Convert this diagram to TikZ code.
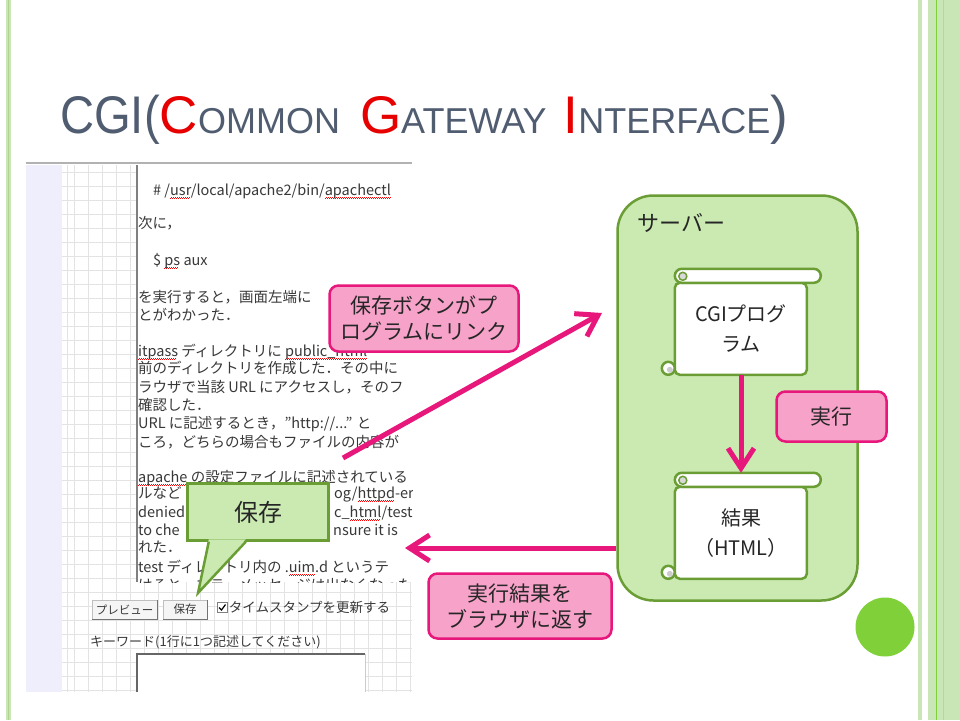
\documentclass[tikz,border=0pt]{standalone}
\usepackage{fontspec}
\usepackage{tikz}
\usetikzlibrary{arrows.meta,positioning,calc}

\setmainfont{Liberation Sans}
\newfontfamily\jp{Noto Sans CJK JP}

\definecolor{titlegray}{HTML}{505C70}
\definecolor{titlered}{HTML}{E60000}
\definecolor{linkpink}{HTML}{E8177C}
\definecolor{notepink}{HTML}{F6A2C9}
\definecolor{srvgreen}{HTML}{CBEAB2}
\definecolor{srvedge}{HTML}{6A9E35}
\definecolor{leafgreen}{HTML}{80D03A}
\definecolor{palegreen}{HTML}{C8E6B6}
\definecolor{shotgrid}{HTML}{E3E3E3}
\definecolor{shotpanel}{HTML}{EEEEFC}
\definecolor{shottext}{HTML}{383838}

% small caps of the title
\newcommand\smcap[1]{{\fontsize{36}{40}\selectfont #1}}
% red wavy line under misspelt words
\newlength\spellwd
\newcommand\spell[1]{\settowidth\spellwd{#1}%
  \rlap{\color{red}\leaders\hbox{\rule[-3.2pt]{1pt}{0.7pt}\rule[-2.4pt]{1pt}{0.7pt}}\hskip\spellwd}#1}

\tikzset{
  scrollpic/.pic = {
    % body of the scroll
    \filldraw[scrolledge, fill=white, rounded corners=5pt]
      (0,14) -- (0,106) -- (132,106) -- (132,14) -- cycle;
    % top roll and its curl
    \filldraw[scrolledge, fill=white, rounded corners=7pt] (0,0) rectangle (146,14);
    \filldraw[scrolledge, fill=gray!30, line width=1.5pt] (8,7.5) circle (4pt);
    % bottom curl
    \filldraw[scrolledge, fill=white] (-6.5,99.5) circle (6.5pt);
    \fill[gray!40] (-5,101) circle (3pt);
  }
}

\begin{document}
\begin{tikzpicture}[
    x = 1pt, y = -1pt, % one unit is one pixel, y runs down
    > = {Straight Barb[length=20pt,width=26pt]}, % open arrow head
    linkarrow/.style = {->, draw=linkpink, line width=5pt},
    pinknote/.style = {draw=linkpink, fill=notepink, line width=2.5pt,
        rounded corners=9pt, align=center, inner sep=0pt, text=black!85,
        font=\jp\fontsize{21}{26}\selectfont},
    srvbox/.style = {draw=srvedge, fill=srvgreen, line width=2.5pt,
        rounded corners=36pt, minimum width=240pt, minimum height=405pt},
    scrollnode/.style = {minimum width=132pt, minimum height=106pt, inner sep=0pt},
    scrolledge/.style = {draw=srvedge, line width=2.5pt},
    scrolltext/.style = {align=center, text=black!85,
        font=\jp\fontsize{20}{30}\selectfont},
    shot/.style = {anchor=base west, inner sep=0pt, text=shottext,
        font=\jp\fontsize{14.5}{18}\selectfont},
    btn/.style = {fill=black!4, draw=black!25, minimum height=19pt, inner sep=0pt,
        text=shottext, font=\jp\fontsize{11.5}{12}\selectfont}
]
\fill[white] (0,0) rectangle (960,720);
\useasboundingbox (0,0) rectangle (960,720);

% slide decoration
\fill[palegreen] (6,0) rectangle (11,720);
\draw[srvgreen!70!srvedge, line width=0.8pt] (8,0) -- (8,720);
\fill[palegreen] (918,0) rectangle (922,720);
\fill[palegreen] (928,0) rectangle (960,720);
\draw[leafgreen, line width=1pt] (936,0) -- (936,720);
\draw[palegreen!80!srvedge, line width=1pt] (943,0) -- (943,720);
\fill[leafgreen] (885,627) circle (29.5pt);

% title
\node[anchor=base west, inner sep=0pt, text=titlegray,
      font=\fontsize{53}{60}\selectfont] (title) at (60,133)
  {\scalebox{0.89}[1]{CGI(}\textcolor{titlered}{C}\smcap{OMMON}\hspace{20pt}\textcolor{titlered}{G}\smcap{ATEWAY}\hspace{17pt}\textcolor{titlered}{I}\smcap{NTERFACE})};

% screenshot of the browser
\fill[shotpanel] (26,165) rectangle (62,692);
\fill[white] (62,165) rectangle (412,692);
\foreach \gx in {67,74,88,...,410}
  \draw[shotgrid] (\gx,165) -- (\gx,692);
\foreach \gy in {172,186,...,690}
  \draw[shotgrid] (62,\gy) -- (412,\gy);
\draw[black!30, line width=2pt] (26,163) -- (412,163);
\fill[white] (137,165) rectangle (412,582);
\draw[black!50, line width=1.5pt] (137,165) -- (137,582);

\begin{scope}
  \clip (137,165) rectangle (412,582);
  \node[shot] (l1) at (153,195) {\# /\spell{usr}/local/apache2/bin/\spell{apachectl}};
  \node[shot] (l2) at (138,228) {次に，};
  \node[shot] (l3) at (153,265) {\$ \spell{ps} aux};
  \node[shot] (l4) at (138,302) {を実行すると，画面左端に};
  \node[shot] (l5) at (138,320) {とがわかった．};
  \node[shot] (l6) at (138,356) {\spell{itpass} ディレクトリに \spell{public\_html}};
  \node[shot] (l7) at (138,373) {前のディレクトリを作成した．その中に};
  \node[shot] (l8) at (138,392) {ラウザで当該 URL にアクセスし，そのフ};
  \node[shot] (l9) at (138,410) {確認した．};
  \node[shot] (l10) at (138,428) {URL に記述するとき，”http://...” と};
  \node[shot] (l11) at (138,447) {ころ，どちらの場合もファイルの内容が};
  \node[shot] (l12) at (138,482) {\spell{apache} の設定ファイルに記述されている};
  \node[shot] (l13) at (138,498) {ルなど};
  \node[shot] (l13b) at (334,498) {og/\spell{httpd}-er};
  \node[shot] (l14) at (138,517) {denied};
  \node[shot] (l14b) at (334,517) {c\_\spell{html}/test};
  \node[shot] (l15) at (138,535) {to che};
  \node[shot] (l15b) at (333,535) {nsure it is};
  \node[shot] (l16) at (138,552) {れた．};
  \node[shot] (l17) at (138,572) {test ディレクトリ内の .\spell{uim}.d というテ};
  \node[shot] (l18) at (138,590) {けると，エラーメッセージは出なくなった};
\end{scope}

% buttons and keyword field
\node[btn, minimum width=65pt] (prev) at (124.5,609.5) {プレビュー};
\node[btn, minimum width=44pt] (save) at (185,609.5) {保存};
\draw[black!55, line width=1.2pt] (prev.south west) -- (prev.south east) -- (prev.north east);
\draw[black!55, line width=1.2pt] (save.south west) -- (save.south east) -- (save.north east);
\node[draw=black!50, fill=white, minimum size=10pt, inner sep=0pt] (chk) at (222,607.5) {};
\draw[line width=1.2pt] ([shift={(-3,0)}]chk.center) -- ([shift={(-0.5,2.5)}]chk.center)
  -- ([shift={(3.5,-3)}]chk.center);
\node[shot, right=1.5pt of chk, font=\jp\fontsize{13.5}{16}\selectfont] (stamp) {タイムスタンプを更新する};
\node[shot, anchor=west, font=\jp\fontsize{13}{16}\selectfont] (kw) at (90,642) {キーワード(1行に1つ記述してください)};
\fill[white] (137,654) rectangle (365,692);
\draw[black!20] (365,654) -- (365,692);
\draw[black!60, line width=1.5pt] (137,692) -- (137,654) -- (365,654);

% server with the two scrolls
\node[srvbox] (srv) at (737.5,398) {};
\node[anchor=north west, inner sep=0pt, text=black!85, font=\jp\fontsize{22}{26}\selectfont]
  (srvlbl) at ([xshift=21pt,yshift=-19pt]srv.north west) {サーバー};

\node[scrollnode] (cgi) at (741,322) {};
\pic at (cgi.north west) {scrollpic};
\node[scrolltext] (cgitxt) at ([yshift=-7pt]cgi.center) {CGIプログ\\ラム};

\node[scrollnode] (res) at (741,526) {};
\pic at (res.north west) {scrollpic};
\node[scrolltext] (restxt) at ([yshift=-7pt]res.center) {結果\\（HTML）};

% connectors
\coordinate (linkfrom) at (343,458);
\coordinate (linkto) at (602,313);
\coordinate (retto) at (405,548);
\draw[linkarrow] (linkfrom) -- (linkto);
\draw[linkarrow] (cgi.south) -- (res.north);
\draw[linkarrow] (srv.west |- retto) -- (retto);

% notes
\node[pinknote, minimum width=189pt, minimum height=66pt] (lnk) at (424,318.5)
  {保存ボタンがプ\\ログラムにリンク};
\node[pinknote, minimum width=110pt, minimum height=50pt] (exe) at (831.5,416.5) {実行};
\node[pinknote, minimum width=183pt, minimum height=65pt] (ret) at (520,606)
  {実行結果を\\ブラウザに返す};

% speech bubble on the save button
\node[draw=srvedge, fill=srvgreen, line width=2.5pt, minimum width=141pt,
      minimum height=57pt, text=black!85, font=\jp\fontsize{24}{28}\selectfont]
  (bub) at (258,512) {保存};
\coordinate (bubtip) at (198,593);
\fill[srvgreen] ($(bub.south west)+(22.5,-2.5)$) -- (bubtip) -- ($(bub.south west)+(59.5,-2.5)$) -- cycle;
\draw[srvedge, line width=2.5pt] ($(bub.south west)+(22.5,0)$) -- (bubtip) -- ($(bub.south west)+(59.5,0)$);
\end{tikzpicture}
\end{document}
